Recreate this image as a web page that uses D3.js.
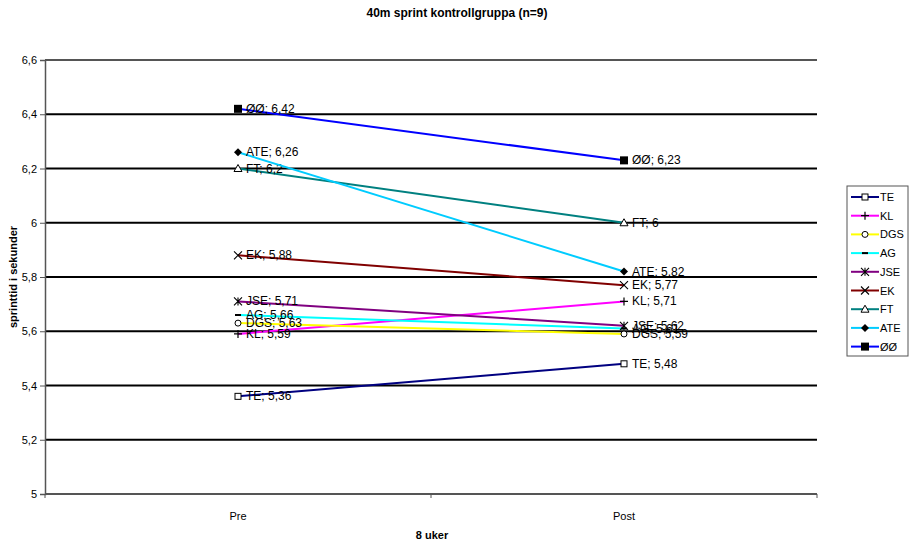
<!DOCTYPE html>
<html>
<head>
<meta charset="utf-8">
<script src="https://cdn.jsdelivr.net/npm/d3@7"></script>
<style>
  body { margin: 0; background: #fff; }
  svg { display: block; font-family: "Liberation Sans", Arial, sans-serif; }
</style>
</head>
<body>
<svg id="chart" width="915" height="544"></svg>
<script>
// 40 m sprint times before and after 8 weeks, control group
const categories = ["Pre", "Post"];
const names   = ["TE", "KL", "DGS", "AG", "JSE", "EK", "FT", "ATE", "ØØ"];
const preVals  = [5.36, 5.59, 5.63, 5.66, 5.71, 5.88, 6.2, 6.26, 6.42];
const postVals = [5.48, 5.71, 5.59, 5.61, 5.62, 5.77, 6.0, 5.82, 6.23];
const colors  = ["#000080", "#FF00FF", "#FFFF00", "#00FFFF", "#800080", "#800000", "#008080", "#00CCFF", "#0000FF"];
const markers = ["squareOpen", "plus", "circleOpen", "dash", "asterisk", "cross", "triangleOpen", "diamond", "squareFilled"];
const yTicks  = [5, 5.2, 5.4, 5.6, 5.8, 6, 6.2, 6.4, 6.6];

const svg = d3.select("#chart");
const plotLeft = 45, plotRight = 817, plotTop = 60, plotBottom = 494;

const x = d3.scaleBand().domain(categories).range([plotLeft, plotRight]);
const y = d3.scaleLinear().domain([5, 6.6]).range([plotBottom, plotTop]);
const fmt = v => String(v).replace(".", ",");

// Title
svg.append("text").attr("x", 457).attr("y", 17).attr("text-anchor", "middle")
  .attr("font-size", 12).attr("font-weight", "bold").text("40m sprint kontrollgruppa (n=9)");

// Horizontal grid lines
svg.append("g").selectAll("line").data(yTicks.filter(t => t > 5 && t < 6.6)).join("line")
  .attr("x1", plotLeft).attr("x2", plotRight)
  .attr("y1", d => y(d)).attr("y2", d => y(d))
  .attr("stroke", "#000").attr("stroke-width", 2);

// top frame line
svg.append("line").attr("x1", plotLeft).attr("x2", plotRight).attr("y1", y(6.6)).attr("y2", y(6.6))
  .attr("stroke", "#555").attr("stroke-width", 2);

// Y axis
const yAxis = d3.axisLeft(y).tickValues(yTicks).tickSize(5).tickPadding(3)
  .tickFormat(d => fmt(+d.toFixed(1)));
const gy = svg.append("g").attr("transform", `translate(${plotLeft},0)`).call(yAxis);
gy.select(".domain").attr("stroke", "#555").attr("stroke-width", 1.5);
gy.selectAll(".tick line").attr("stroke", "#555");
gy.selectAll(".tick text").attr("font-size", 11).attr("fill", "#000")
  .attr("font-family", "Liberation Sans, Arial, sans-serif");

// X axis with ticks at band boundaries
svg.append("line").attr("x1", plotLeft).attr("x2", plotRight).attr("y1", plotBottom).attr("y2", plotBottom)
  .attr("stroke", "#555").attr("stroke-width", 2);
const bounds = [plotLeft, x("Post"), plotRight];
svg.append("g").selectAll("line").data(bounds).join("line")
  .attr("x1", d => d).attr("x2", d => d).attr("y1", plotBottom).attr("y2", plotBottom + 4)
  .attr("stroke", "#555");
svg.append("g").selectAll("text").data(categories).join("text")
  .attr("x", d => x(d) + x.bandwidth() / 2).attr("y", 520)
  .attr("text-anchor", "middle").attr("font-size", 11).text(d => d);

// Axis titles
svg.append("text").attr("x", 432).attr("y", 539).attr("text-anchor", "middle")
  .attr("font-size", 11).attr("font-weight", "bold").text("8 uker");
svg.append("text").attr("transform", "translate(17,277) rotate(-90)")
  .attr("text-anchor", "middle").attr("font-size", 11).attr("font-weight", "bold")
  .text("sprinttid i sekunder");

// Marker drawing
function drawMarker(g, type, cx, cy) {
  const k = "#000";
  switch (type) {
    case "squareOpen":
      g.append("rect").attr("x", cx - 3).attr("y", cy - 3).attr("width", 6).attr("height", 6)
        .attr("fill", "#fff").attr("stroke", k).attr("stroke-width", 1); break;
    case "squareFilled":
      g.append("rect").attr("x", cx - 4).attr("y", cy - 4).attr("width", 8).attr("height", 8)
        .attr("fill", k); break;
    case "plus":
      g.append("path").attr("d", `M${cx-4},${cy}H${cx+4}M${cx},${cy-4}V${cy+4}`)
        .attr("stroke", k).attr("stroke-width", 1.2); break;
    case "circleOpen":
      g.append("circle").attr("cx", cx).attr("cy", cy).attr("r", 3)
        .attr("fill", "#fff").attr("stroke", k).attr("stroke-width", 1); break;
    case "dash":
      g.append("path").attr("d", `M${cx-3},${cy}H${cx+3}`).attr("stroke", k).attr("stroke-width", 2); break;
    case "asterisk":
      g.append("path").attr("d", `M${cx-4},${cy-4}L${cx+4},${cy+4}M${cx-4},${cy+4}L${cx+4},${cy-4}M${cx},${cy-4}V${cy+4}`)
        .attr("stroke", k).attr("stroke-width", 1.1); break;
    case "cross":
      g.append("path").attr("d", `M${cx-4},${cy-4}L${cx+4},${cy+4}M${cx-4},${cy+4}L${cx+4},${cy-4}`)
        .attr("stroke", k).attr("stroke-width", 1.1); break;
    case "triangleOpen":
      g.append("path").attr("d", `M${cx},${cy-4}L${cx+4},${cy+3}L${cx-4},${cy+3}Z`)
        .attr("fill", "#fff").attr("stroke", k).attr("stroke-width", 1); break;
    case "diamond":
      g.append("path").attr("d", `M${cx},${cy-4}L${cx+4},${cy}L${cx},${cy+4}L${cx-4},${cy}Z`)
        .attr("fill", k); break;
  }
}

// Series lines, markers and data labels
const cxOf = c => x(c) + x.bandwidth() / 2;
const line = d3.line().x(d => cxOf(d.cat)).y(d => y(d.v));
names.forEach((name, i) => {
  const pts = [{cat: "Pre", v: preVals[i]}, {cat: "Post", v: postVals[i]}];
  const g = svg.append("g");
  g.append("path").datum(pts).attr("d", line).attr("fill", "none")
    .attr("stroke", colors[i]).attr("stroke-width", 2);
  pts.forEach(p => {
    drawMarker(g, markers[i], cxOf(p.cat), y(p.v));
    g.append("text").attr("x", cxOf(p.cat) + 8).attr("y", y(p.v) + 4)
      .attr("font-size", 12).attr("fill", "#000").text(`${name}; ${fmt(p.v)}`);
  });
});

// Legend
const lg = svg.append("g");
lg.append("rect").attr("x", 847).attr("y", 186).attr("width", 61).attr("height", 170)
  .attr("fill", "#fff").attr("stroke", "#555").attr("stroke-width", 1);
names.forEach((name, i) => {
  const ly = 197 + i * 18.7;
  lg.append("line").attr("x1", 851).attr("x2", 879).attr("y1", ly).attr("y2", ly)
    .attr("stroke", colors[i]).attr("stroke-width", 2);
  drawMarker(lg, markers[i], 865, ly);
  lg.append("text").attr("x", 880).attr("y", ly + 4).attr("font-size", 11).text(name);
});
</script>
</body>
</html>
